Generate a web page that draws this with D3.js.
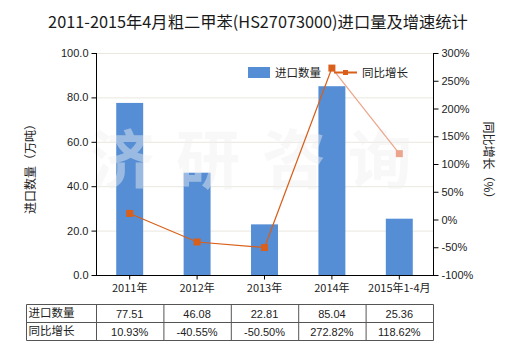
<!DOCTYPE html>
<html><head><meta charset="utf-8">
<script src="https://cdn.jsdelivr.net/npm/d3@7"></script>
<style>body{margin:0;background:#fff}svg{display:block}</style>
</head><body>
<svg id="c" width="520" height="350"></svg>
<script>
const categories = ["2011年","2012年","2013年","2014年","2015年1-4月"];
const importQty = [77.51, 46.08, 22.81, 85.04, 25.36];
const growth = [10.93, -40.55, -50.50, 272.82, 118.62];
const qtyLabels = ["77.51","46.08","22.81","85.04","25.36"];
const growthLabels = ["10.93%","-40.55%","-50.50%","272.82%","118.62%"];
const leftTicks = [0,20,40,60,80,100];
const rightTicks = [-100,-50,0,50,100,150,200,250,300];
const title = "2011-2015年4月粗二甲苯(HS27073000)进口量及增速统计";
const seriesNames = ["进口数量","同比增长"];

const svg = d3.select("#c");
const font = "'Liberation Sans', Arial, 'Noto Sans CJK SC', sans-serif";
const cjk = "'Noto Sans CJK SC', sans-serif";
const L = 96, R = 433, T = 53, B = 275;
const x = d3.scaleBand().domain(categories).range([L, R]).paddingInner(0).paddingOuter(0);
const yL = d3.scaleLinear().domain([0,100]).range([B, T]);
const yR = d3.scaleLinear().domain([-100,300]).range([B, T]);
const barColor = "#558ed5", lineColor = "#d95f1a", lightColor = "#eca48c";

svg.append("text").attr("x", 258).attr("y", 28).attr("text-anchor","middle")
  .attr("font-family", cjk).attr("font-size", 16.3).attr("fill","#1a1a1a").text(title);

// gridlines
svg.append("g").selectAll("line").data(leftTicks.filter(d=>d>0)).join("line")
  .attr("x1", L).attr("x2", R).attr("y1", d=>yL(d)+0.5).attr("y2", d=>yL(d)+0.5)
  .attr("stroke", "#e9e7de").attr("stroke-width", 1);

// bars
const bw = x.bandwidth()*0.4;
svg.append("g").selectAll("rect").data(importQty).join("rect")
  .attr("x", (d,i)=>x(categories[i]) + x.bandwidth()/2 - bw/2)
  .attr("y", d=>yL(d)).attr("width", bw).attr("height", d=>B - yL(d))
  .attr("fill", barColor);

// watermark
svg.append("text").attr("x", 262).attr("y", 183).attr("text-anchor","middle")
  .attr("font-family", cjk).attr("font-weight","bold").attr("font-size", 64)
  .attr("letter-spacing", 22)
  .attr("fill", "#f0f0f0").attr("fill-opacity", 0.45).text("济研咨询");

// line
const pts = growth.map((g,i)=>[x(categories[i]) + x.bandwidth()/2, yR(g)]);
const line = d3.line();
svg.append("path").attr("d", line(pts.slice(0,4))).attr("fill","none")
  .attr("stroke", lineColor).attr("stroke-width", 1.2);
svg.append("path").attr("d", line(pts.slice(3))).attr("fill","none")
  .attr("stroke", lightColor).attr("stroke-width", 1.2);
svg.append("g").selectAll("rect").data(pts).join("rect")
  .attr("x", d=>d[0]-3.5).attr("y", d=>d[1]-3.5).attr("width", 7).attr("height", 7)
  .attr("fill", (d,i)=> i===4 ? lightColor : lineColor);

// axes
const axL = svg.append("g").attr("transform", `translate(${L+0.5},0)`)
  .call(d3.axisLeft(yL).tickValues(leftTicks).tickFormat(d3.format(".1f")).tickSize(5).tickSizeOuter(0));
const axR = svg.append("g").attr("transform", `translate(${R+0.5},0)`)
  .call(d3.axisRight(yR).tickValues(rightTicks).tickFormat(d=>d+"%").tickSize(5).tickSizeOuter(0));
const axB = svg.append("g").attr("transform", `translate(0,${B+0.5})`)
  .call(d3.axisBottom(x).tickSize(4).tickSizeOuter(0).tickPadding(5));
[axL, axR, axB].forEach(a=>{
  a.selectAll("path,line").attr("stroke","#000");
  a.selectAll("text").attr("font-family", font).attr("font-size", 11).attr("fill","#222");
});
axL.select(".domain").attr("d", `M0,${T}V${B}`);
axR.select(".domain").attr("d", `M0,${T}V${B}`);
axB.select(".domain").attr("d", `M${L},0H${R+1}`);
axB.selectAll("text").attr("font-family", cjk).attr("font-size", 11);

// axis titles
svg.append("text").attr("transform", "translate(35,166) rotate(-90)").attr("text-anchor","middle")
  .attr("font-family", cjk).attr("font-size", 12).attr("fill","#222").text("进口数量（万吨）");
svg.append("text").attr("transform", "translate(484,163) rotate(90)").attr("text-anchor","middle")
  .attr("font-family", cjk).attr("font-size", 12).attr("fill","#222").text("同比增长（%）");

// legend
svg.append("rect").attr("x", 248).attr("y", 67).attr("width", 22).attr("height", 11).attr("fill", barColor);
svg.append("text").attr("x", 275).attr("y", 77).attr("font-family", cjk).attr("font-size", 11.5)
  .attr("fill","#222").text(seriesNames[0]);
svg.append("line").attr("x1", 334).attr("x2", 357).attr("y1", 72.5).attr("y2", 72.5)
  .attr("stroke", lineColor).attr("stroke-width", 2);
svg.append("rect").attr("x", 343).attr("y", 70).attr("width", 5).attr("height", 5).attr("fill", lineColor);
svg.append("text").attr("x", 362).attr("y", 77).attr("font-family", cjk).attr("font-size", 11.5)
  .attr("fill","#222").text(seriesNames[1]);

// table
const tT = 304.5, rowH = 18, tL = 26.5;
const tbl = svg.append("g");
const edges = [tL].concat(categories.map(c=>x(c)+0.5)).concat([R+0.5]);
tbl.selectAll("line.h").data([tT, tT+rowH, tT+2*rowH]).join("line")
  .attr("x1", tL).attr("x2", R+0.5).attr("y1", d=>d).attr("y2", d=>d)
  .attr("stroke","#555").attr("stroke-width",1);
tbl.selectAll("line.v").data(edges).join("line")
  .attr("x1", d=>d).attr("x2", d=>d).attr("y1", tT).attr("y2", tT+2*rowH)
  .attr("stroke","#555").attr("stroke-width",1);
const rows = [[seriesNames[0], qtyLabels],[seriesNames[1], growthLabels]];
rows.forEach((r,ri)=>{
  const yy = tT + ri*rowH + 13;
  tbl.append("text").attr("x", tL+2).attr("y", yy-1).attr("font-family", cjk).attr("font-size", 11.5)
    .attr("fill","#222").text(r[0]);
  r[1].forEach((v,i)=>{
    tbl.append("text").attr("x", x(categories[i])+x.bandwidth()/2).attr("y", yy)
      .attr("text-anchor","middle").attr("font-family", font).attr("font-size", 11)
      .attr("fill","#222").text(v);
  });
});
</script>
</body></html>
